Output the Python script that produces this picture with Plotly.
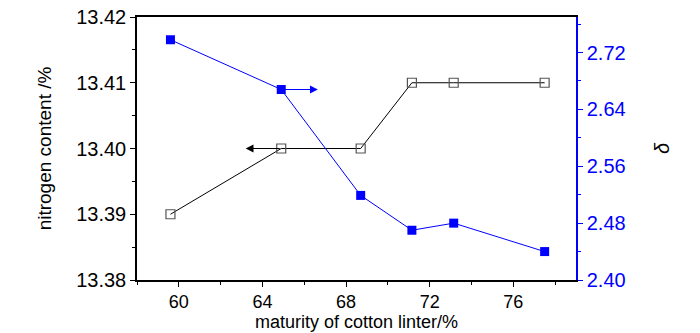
import plotly.graph_objects as go

maturity = [59.6, 64.9, 68.7, 71.15, 73.15, 77.5]
nitrogen = [13.39, 13.40, 13.40, 13.41, 13.41, 13.41]
delta = [2.738, 2.668, 2.519, 2.470, 2.480, 2.440]

FONT = "Liberation Sans, Arial, sans-serif"
BLUE = "#0000FF"

fig = go.Figure()
fig.add_trace(go.Scatter(
    x=maturity, y=nitrogen, mode="lines+markers",
    line=dict(color="black", width=1),
    marker=dict(symbol="square-open", size=9, color="#555555", line=dict(width=1.2)),
    showlegend=False,
))
fig.add_trace(go.Scatter(
    x=maturity, y=delta, mode="lines+markers", yaxis="y2",
    line=dict(color=BLUE, width=1),
    marker=dict(symbol="square", size=9, color=BLUE),
    showlegend=False,
))

fig.add_annotation(x=63.2, y=nitrogen[1], ax=maturity[1], ay=nitrogen[1],
                   xref="x", yref="y", axref="x", ayref="y",
                   showarrow=True, arrowhead=2, arrowsize=1.3, arrowwidth=1.2,
                   arrowcolor="black", text="", standoff=0, startstandoff=0)
fig.add_annotation(x=66.65, y=delta[1], ax=maturity[1], ay=delta[1],
                   xref="x", yref="y2", axref="x", ayref="y2",
                   showarrow=True, arrowhead=2, arrowsize=1.3, arrowwidth=1.2,
                   arrowcolor=BLUE, text="", standoff=0, startstandoff=0)

fig.update_layout(
    width=700, height=333,
    margin=dict(l=137, r=124, t=17, b=53),
    plot_bgcolor="white", paper_bgcolor="white",
    font=dict(family=FONT, color="black"),
    xaxis=dict(
        range=[58, 79], tick0=60, dtick=4, automargin=False,
        showline=True, linecolor="black", linewidth=1.5, mirror=True,
        ticks="outside", ticklen=5, tickcolor="black", tickwidth=1,
        minor=dict(dtick=2, ticks="outside", ticklen=3, tickcolor="black"),
        showgrid=False, zeroline=False,
        tickfont=dict(size=18),
        title=dict(text="maturity of cotton linter/%", font=dict(size=18), standoff=2),
    ),
    yaxis=dict(
        range=[13.38, 13.42], tick0=13.38, dtick=0.01, tickformat=".2f", automargin=False,
        showline=True, linecolor="black", linewidth=1.5,
        ticks="outside", ticklen=5, tickcolor="black",
        minor=dict(dtick=0.005, ticks="outside", ticklen=3, tickcolor="black"),
        showgrid=False, zeroline=False,
        tickfont=dict(size=20),
        title=dict(text="nitrogen content /%", font=dict(size=19), standoff=20),
    ),
    yaxis2=dict(
        range=[2.40, 2.77], tick0=2.40, dtick=0.08, tickformat=".2f", automargin=False,
        overlaying="y", side="right",
        showline=True, linecolor=BLUE, linewidth=1.5,
        ticks="outside", ticklen=5, tickcolor=BLUE,
        minor=dict(dtick=0.04, ticks="outside", ticklen=3, tickcolor=BLUE),
        showgrid=False, zeroline=False,
        tickfont=dict(size=20, color=BLUE),
        title=dict(text="<i>δ</i>", font=dict(size=20, color="black"), standoff=30),
    ),
)

fig.write_html("out.html")
